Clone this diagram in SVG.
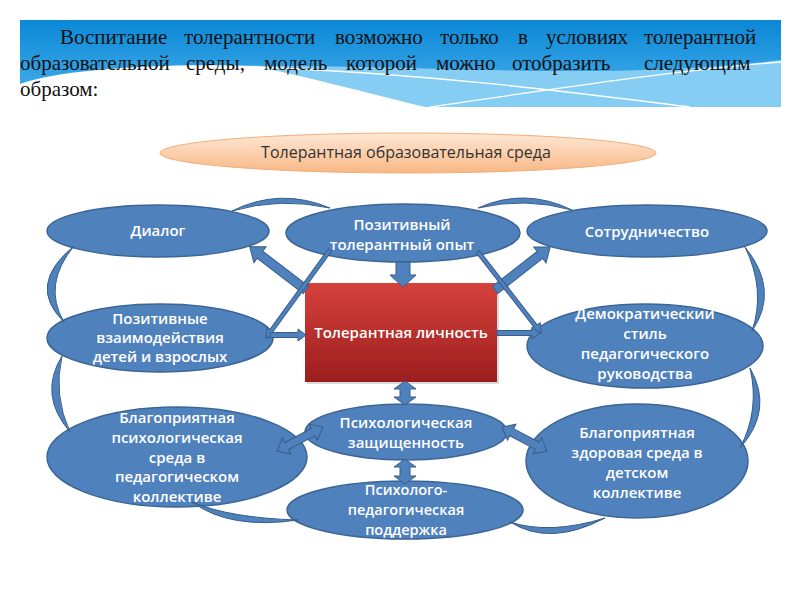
<svg xmlns="http://www.w3.org/2000/svg" width="800" height="600" viewBox="0 0 800 600">
<defs>
<linearGradient id="bannerG" x1="0" y1="0" x2="0" y2="1">
<stop offset="0" stop-color="#0b87d6"/>
<stop offset="1" stop-color="#4cb3ee"/>
</linearGradient>
<linearGradient id="peachG" x1="0" y1="0" x2="0" y2="1">
<stop offset="0" stop-color="#fee8d6"/>
<stop offset="1" stop-color="#f8b784"/>
</linearGradient>
<linearGradient id="redG" x1="0" y1="0" x2="0" y2="1">
<stop offset="0" stop-color="#d6423c"/>
<stop offset="1" stop-color="#9b1e1e"/>
</linearGradient>
<style>
.node{fill:#4f81bd;stroke:#3b6595;stroke-width:1.5}
.lbl{fill:#fff;font-family:"Open Sans","Noto Sans","DejaVu Sans",sans-serif;font-size:15px;font-weight:600;text-anchor:middle}
.con{fill:#4f81bd;stroke:#385d8a;stroke-width:1}
.head{font-family:"Liberation Serif","Times New Roman",serif;font-size:21px;fill:#111}
</style>
</defs>
<rect width="800" height="600" fill="#fff"/>
<g id="banner">
<rect x="20" y="20" width="761" height="87" fill="url(#bannerG)"/>
<path d="M230,66 C420,64 600,82 781,60 L781,107 L20,107 Z" fill="#86cdf4"/>
<path d="M20,84 C60,70 150,63 255,66 C320,80 380,96 425,107 L20,107 Z" fill="#fff"/>
<path d="M255,67 C440,74 600,96 690,107" fill="none" stroke="#fff" stroke-width="1.3"/>
<path d="M430,107 C560,88 680,70 781,62" fill="none" stroke="#fff" stroke-width="1.3"/>
<text class="head" y="44"><tspan x="60">Воспитание</tspan><tspan x="184">толерантности</tspan><tspan x="335">возможно</tspan><tspan x="440">только</tspan><tspan x="518">в</tspan><tspan x="546">условиях</tspan><tspan x="644">толерантной</tspan></text>
<text class="head" y="70"><tspan x="20">образовательной</tspan><tspan x="186">среды,</tspan><tspan x="264">модель</tspan><tspan x="346">которой</tspan><tspan x="436">можно</tspan><tspan x="512">отобразить</tspan><tspan x="644">следующим</tspan></text>
<text class="head" x="20" y="96">образом:</text>
</g>
<g id="env">
<ellipse cx="408" cy="153" rx="248" ry="20" fill="url(#peachG)" stroke="#f2ad78" stroke-width="1"/>
<text x="406" y="158" style="fill:#333;font-family:'Open Sans','Noto Sans',sans-serif;font-size:16px;text-anchor:middle">Толерантная образовательная среда</text>
</g>
<g id="dialog">
<ellipse class="node" cx="158" cy="231" rx="111" ry="26"/>
<text class="lbl" x="158" y="236">Диалог</text>
</g>
<g id="experience">
<ellipse class="node" cx="403" cy="233" rx="117" ry="29"/>
<text class="lbl" x="402" y="230">Позитивный</text>
<text class="lbl" x="402" y="250">толерантный опыт</text>
</g>
<g id="cooperation">
<ellipse class="node" cx="647" cy="231" rx="120" ry="26"/>
<text class="lbl" x="647" y="237">Сотрудничество</text>
</g>
<g id="interaction">
<ellipse class="node" cx="160" cy="338" rx="113" ry="34"/>
<text class="lbl" x="160" y="324">Позитивные</text>
<text class="lbl" x="160" y="343">взаимодействия</text>
<text class="lbl" x="160" y="362">детей и взрослых</text>
</g>
<g id="personality">
<rect x="307" y="285" width="192" height="99" fill="#000" opacity="0.15"/>
<rect x="305" y="283" width="192" height="99" fill="url(#redG)"/>
<text class="lbl" x="401" y="338">Толерантная личность</text>
</g>
<g id="democratic">
<ellipse class="node" cx="645" cy="346" rx="118" ry="42"/>
<text class="lbl" x="645" y="319">Демократический</text>
<text class="lbl" x="645" y="339">стиль</text>
<text class="lbl" x="645" y="359">педагогического</text>
<text class="lbl" x="645" y="379">руководства</text>
</g>
<g id="psychenv">
<ellipse class="node" cx="177" cy="457" rx="130" ry="50"/>
<text class="lbl" x="177" y="423">Благоприятная</text>
<text class="lbl" x="177" y="443">психологическая</text>
<text class="lbl" x="177" y="463">среда в</text>
<text class="lbl" x="177" y="482">педагогическом</text>
<text class="lbl" x="177" y="502">коллективе</text>
</g>
<g id="security">
<ellipse class="node" cx="406" cy="432" rx="101" ry="28"/>
<text class="lbl" x="406" y="428">Психологическая</text>
<text class="lbl" x="406" y="448">защищенность</text>
</g>
<g id="support">
<ellipse class="node" cx="405" cy="510" rx="118" ry="29"/>
<text class="lbl" x="406" y="495" style="font-size:14.5px">Психолого-</text>
<text class="lbl" x="406" y="515" style="font-size:14.5px">педагогическая</text>
<text class="lbl" x="406" y="535" style="font-size:14.5px">поддержка</text>
</g>
<g id="healthenv">
<ellipse class="node" cx="637" cy="461" rx="111" ry="57"/>
<text class="lbl" x="637" y="438">Благоприятная</text>
<text class="lbl" x="637" y="458">здоровая среда в</text>
<text class="lbl" x="637" y="478">детском</text>
<text class="lbl" x="637" y="498">коллективе</text>
</g>
<g id="connectors">
<path class="con" d="M232,211 Q280,187 330,208 Q280,197 232,211 Z"/>
<path class="con" d="M478,208 Q525,187 572,210 Q525,197 478,208 Z"/>
<path class="con" d="M74,246 Q26,285 64,322 Q42,285 74,246 Z"/>
<path class="con" d="M62,356 Q38,395 70,432 Q53,395 62,356 Z"/>
<path class="con" d="M192,502 Q230,530 298,520 Q230,518 192,502 Z"/>
<path class="con" d="M510,522 Q550,547 605,518 Q550,535 510,522 Z"/>
<path class="con" d="M745,247 Q780,290 752,331 Q766,290 745,247 Z"/>
<path class="con" d="M750,368 Q774,410 740,448 Q760,410 750,368 Z"/>
<polygon class="con" points="0,-7 13,-7 13,-13 25,0 13,13 13,7 0,7" transform="translate(403,262) rotate(90)"/>
<polygon class="con" points="0,-4.5 58,-4.5 58,-10 71,0 58,10 58,4.5 0,4.5" transform="translate(306,290) rotate(217.5)"/>
<polygon class="con" points="0,-2 100,-2 100,-5.5 109,0 100,5.5 100,2 0,2" transform="translate(330,250) rotate(126)"/>
<polygon class="con" points="0,-2.5 28,-2.5 28,-6 36,0 28,6 28,2.5 0,2.5" transform="translate(270,335)"/>
<polygon class="con" points="0,-4.5 57,-4.5 57,-10 70,0 57,10 57,4.5 0,4.5" transform="translate(495,290) rotate(-38)"/>
<polygon class="con" points="0,-2 94,-2 94,-5.5 103,0 94,5.5 94,2 0,2" transform="translate(478,252) rotate(52.1)"/>
<polygon class="con" points="0,-2.5 35,-2.5 35,-6 43,0 35,6 35,2.5 0,2.5" transform="translate(497,333)"/>
<polygon class="con" points="0,0 8,-11 8,-5 16,-5 16,-11 24,0 16,11 16,5 8,5 8,11" transform="translate(405,381) rotate(90)"/>
<polygon class="con" points="0,0 8,-11 8,-5 17,-5 17,-11 25,0 17,11 17,5 8,5 8,11" transform="translate(405,459) rotate(90)"/>
<polygon class="con" points="0,0 11,-9 11,-4 41,-4 41,-9 52,0 41,9 41,4 11,4 11,9" transform="translate(323,427) rotate(152.4)"/>
<polygon class="con" points="0,0 11,-9 11,-4 40,-4 40,-9 51,0 40,9 40,4 11,4 11,9" transform="translate(502,427) rotate(28.1)"/>
</g>
</svg>
